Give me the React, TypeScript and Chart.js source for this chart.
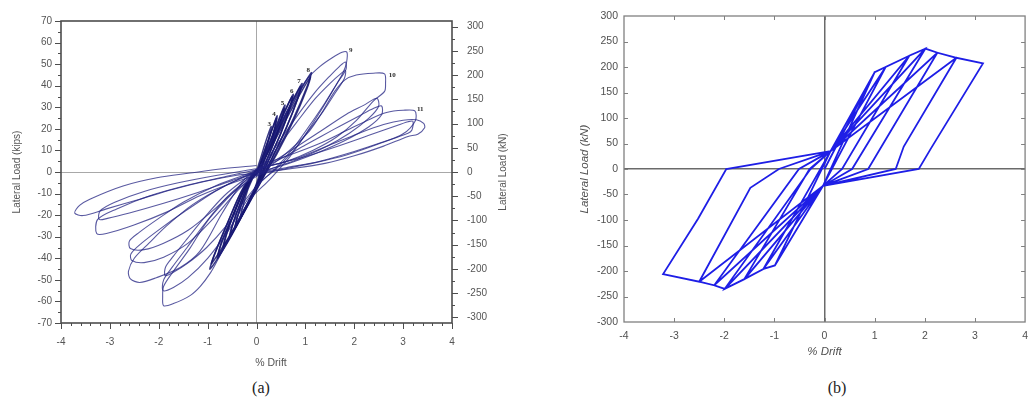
import React, { useEffect, useRef } from 'react';
import { Chart, registerables } from 'chart.js';
Chart.register(...registerables);

type Pt = [number, number];

// ---------- Chart (a): measured hysteresis, % drift vs lateral load (kips) ----------
const cycle3: Pt[] = [[-0.02,-1],[0.08,6],[0.18,13.5],[0.3,21],[0.27,17],[0.19,10],[0.1,3],[0.02,-4],[-0.1,-11],[-0.21,-16.5],[-0.33,-21],[-0.29,-17],[-0.19,-9],[-0.08,-3],[0,1]];
const cycle4: Pt[] = [[0,-1],[0.12,7],[0.26,16],[0.42,26],[0.38,21],[0.27,12],[0.14,4],[0.04,-4],[-0.12,-12],[-0.28,-19.5],[-0.44,-26],[-0.39,-21],[-0.26,-12],[-0.12,-4],[0,1]];
const cycle4b: Pt[] = [[0.02,0],[0.13,7.5],[0.27,16.5],[0.41,25],[0.37,20],[0.26,11.5],[0.13,3.5],[0.03,-4.5],[-0.13,-12.5],[-0.28,-19],[-0.43,-25],[-0.38,-20],[-0.25,-11.5],[-0.11,-3.5],[0.02,0]];
const cycle5: Pt[] = [[0,-1],[0.16,8],[0.36,19],[0.58,31],[0.53,25.5],[0.38,15],[0.2,5],[0.05,-4],[-0.15,-13],[-0.35,-22],[-0.55,-30],[-0.5,-25],[-0.34,-15],[-0.16,-5],[0,1]];
const cycle5b: Pt[] = [[0.02,0],[0.18,8.5],[0.37,18.5],[0.56,29.5],[0.51,24.5],[0.37,14.5],[0.19,4.5],[0.04,-4.5],[-0.16,-13.5],[-0.35,-21.5],[-0.53,-29],[-0.48,-24],[-0.33,-14.5],[-0.15,-4.5],[0.02,0]];
const cycle6: Pt[] = [[0,-1],[0.22,10],[0.47,23],[0.75,36],[0.69,30],[0.5,18],[0.26,6],[0.06,-4],[-0.18,-15],[-0.43,-25.5],[-0.68,-35],[-0.62,-29],[-0.42,-17],[-0.2,-6],[0,1]];
const cycle6b: Pt[] = [[0.02,0],[0.24,10.5],[0.48,23],[0.73,35],[0.67,29],[0.48,17],[0.25,5.5],[0.06,-4],[-0.17,-14.5],[-0.42,-25],[-0.66,-34],[-0.6,-28],[-0.4,-16],[-0.19,-5.5],[0.02,0]];
const cycle7: Pt[] = [[0,-1],[0.28,12],[0.6,27],[0.93,41],[0.86,35],[0.62,21],[0.33,7],[0.07,-5],[-0.22,-17],[-0.51,-29],[-0.8,-40],[-0.73,-34],[-0.5,-21],[-0.24,-7],[0,1]];
const cycle7b: Pt[] = [[0.02,0],[0.3,12.5],[0.6,26.5],[0.9,39.5],[0.84,34],[0.6,20],[0.32,6.5],[0.06,-4.5],[-0.21,-16],[-0.5,-28],[-0.78,-38.5],[-0.71,-32],[-0.48,-20],[-0.23,-7],[0.02,0]];
const cycle8: Pt[] = [[0,-1],[0.34,14],[0.73,31],[1.12,46],[1.04,40],[0.76,25],[0.41,9],[0.08,-5],[-0.26,-19],[-0.6,-33],[-0.95,-45],[-0.87,-39],[-0.6,-24],[-0.29,-8],[0,1]];
const cycle8b: Pt[] = [[0.02,0],[0.36,14],[0.74,30],[1.1,44],[1.03,38.5],[0.76,24],[0.42,8.5],[0.08,-4.5],[-0.25,-18],[-0.59,-31],[-0.92,-42.5],[-0.84,-37],[-0.58,-23],[-0.28,-8],[0.02,0]];
const cycle9a: Pt[] = [[0,-2],[0.2,9],[0.45,21],[0.75,33],[1.05,43.5],[1.3,49],[1.55,53],[1.75,55.5],[1.85,55.5],[1.84,50.5],[1.77,46],[1.62,40],[1.36,30],[1.02,18],[0.68,7],[0.27,-3.5],[-0.14,-13],[-0.5,-28],[-0.8,-41],[-0.95,-47],[-1.15,-53],[-1.36,-57.3],[-1.7,-61],[-1.9,-62],[-1.92,-58],[-1.9,-53],[-1.7,-46],[-1.36,-35.3],[-1.02,-23.2],[-0.61,-12.6],[-0.2,-3.5],[0.1,2]];
const cycle9b: Pt[] = [[0.1,2],[0.4,12],[0.8,25],[1.2,37],[1.5,44.5],[1.7,49],[1.82,51],[1.83,47.5],[1.66,41.5],[1.4,32],[1.1,22],[0.75,11],[0.4,2],[0.08,-5],[-0.22,-14],[-0.6,-28],[-1.0,-40],[-1.4,-49],[-1.7,-53.5],[-1.91,-55],[-1.9,-50],[-1.72,-44],[-1.42,-35],[-1.06,-24],[-0.62,-12],[-0.22,-4],[0.1,1]];
const cycle9c: Pt[] = [[0.1,1],[0.42,11],[0.82,23],[1.2,34],[1.5,41],[1.72,45.5],[1.82,47],[1.8,43.5],[1.62,37],[1.36,28],[1.06,19],[0.72,9],[0.38,1],[0.06,-5],[-0.25,-13.5],[-0.62,-25],[-1.02,-35],[-1.42,-42.5],[-1.7,-46.5],[-1.87,-48],[-1.86,-44],[-1.7,-39],[-1.42,-31],[-1.08,-21.5],[-0.66,-11],[-0.25,-3.5],[0.05,1]];
const cycle10a: Pt[] = [[-0.14,-2],[0.27,2.6],[0.68,10.1],[1.09,19.2],[1.36,28.3],[1.6,37.4],[1.81,42.7],[2.04,45],[2.39,45.8],[2.62,45.5],[2.64,41],[2.62,37.4],[2.39,32.9],[2.04,23.8],[1.64,16.2],[1.16,10.1],[0.61,4.9],[0,1],[-0.3,-5],[-0.7,-19],[-1.16,-36.8],[-1.57,-44.4],[-2.05,-49],[-2.39,-51.2],[-2.58,-49.5],[-2.62,-46],[-2.5,-40],[-2.2,-33],[-1.84,-25],[-1.3,-15],[-0.61,-6],[0,0]];
const cycle10b: Pt[] = [[0,0],[0.6,8.5],[1.23,17.7],[1.84,26.8],[2.2,31],[2.46,34.2],[2.5,30.5],[2.3,25],[1.9,18],[1.4,11.5],[0.8,5.5],[0.2,0.5],[-0.4,-8],[-0.9,-18],[-1.4,-27],[-1.9,-33],[-2.3,-36],[-2.58,-35.5],[-2.6,-32],[-2.4,-28],[-2.0,-21.5],[-1.5,-14],[-0.8,-6],[-0.2,-1]];
const cycle10c: Pt[] = [[-0.2,-1],[0.4,5],[1.0,12.5],[1.6,20],[2.1,26],[2.4,29.5],[2.56,30.6],[2.56,26.5],[2.3,21],[1.8,14.5],[1.2,8.5],[0.6,3.5],[0,-1],[-0.4,-9],[-0.9,-22],[-1.4,-33],[-1.9,-39.5],[-2.3,-42],[-2.55,-41],[-2.57,-38],[-2.35,-33],[-1.95,-26],[-1.45,-18],[-0.85,-9],[-0.3,-2.5],[0.1,1]];
const cycle11a: Pt[] = [[0.07,3.3],[0.68,7.9],[1.29,13.2],[1.84,19.2],[2.32,24.5],[2.66,27.6],[3.0,28.6],[3.24,28.3],[3.25,23.8],[3.0,17.7],[2.52,13.2],[1.84,7.9],[1.16,4.1],[0.48,1],[0,-1.5],[-0.48,-5],[-1.16,-11],[-1.84,-18.6],[-2.52,-24.7],[-3.07,-28.5],[-3.27,-28.5],[-3.25,-22],[-2.86,-17.1],[-2.18,-11],[-1.36,-5.8],[-0.61,-2],[0,1]];
const cycle11b: Pt[] = [[0,1],[0.2,2.5],[0.9,6.5],[1.6,11.5],[2.3,17],[2.8,21],[3.1,23.3],[3.2,23.5],[3.18,19.5],[3.1,18],[2.6,14],[2.0,9.5],[1.3,5],[0.6,2],[0,-0.5],[-0.5,-4],[-1.2,-9.5],[-1.9,-14.5],[-2.6,-19],[-3.05,-21.5],[-3.22,-22],[-3.2,-18],[-2.9,-14],[-2.3,-9],[-1.6,-5],[-0.8,-1.5],[0,1.5]];
const cycle12: Pt[] = [[0,1.5],[0.3,3],[0.9,7],[1.5,12.5],[2.1,18],[2.6,22],[3.0,24],[3.27,24.2],[3.42,22.5],[3.44,20.5],[3.3,17.5],[3.1,16.5],[2.6,12],[2.0,7.5],[1.4,4],[0.7,1.5],[0,-0.5],[-0.4,-1.5],[-1.02,-4.2],[-1.7,-8],[-2.39,-12.6],[-3.07,-17.1],[-3.55,-20.2],[-3.72,-19],[-3.62,-15.5],[-3.41,-12.6],[-2.73,-6.5],[-2.04,-2.7],[-1.36,-0.5],[-0.7,1.5],[0,3]];

const smallCyclesA: Pt[][] = [cycle3, cycle4, cycle4b, cycle5, cycle5b, cycle6, cycle6b, cycle7, cycle7b, cycle8, cycle8b];
const largeCyclesA: Pt[][] = [cycle9a, cycle9b, cycle9c, cycle10a, cycle10b, cycle10c, cycle11a, cycle11b, cycle12];

const peakLabels = ['3', '4', '5', '6', '7', '8', '9', '10', '11'];
const peakLabelDrift = [0.26, 0.36, 0.53, 0.72, 0.87, 1.06, 1.93, 2.78, 3.35];
const peakLabelLoad = [22, 26.8, 31.8, 37.4, 42.3, 47.3, 56.6, 45, 29.1];

const driftTicksA = [-4, -3, -2, -1, 0, 1, 2, 3, 4];
const kipTicks = [-70, -60, -50, -40, -30, -20, -10, 0, 10, 20, 30, 40, 50, 60, 70];
const kNTicks = [-300, -250, -200, -150, -100, -50, 0, 50, 100, 150, 200, 250, 300];
const KIP_TO_KN = 4.448;

// ---------- Chart (b): numerical model, % drift vs lateral load (kN) ----------
const driftB = [0, 1.0, -0.03, -0.99, 0.12, 1.0, 1.22, -0.03, -0.99, -1.22, 0.12, 1.22, 1.69, 0.35, -0.03, -1.22, -1.6, -0.3, 0.12,
  1.69, 2.01, 0.55, -0.03, -1.6, -1.99, -0.28, 0.12, 2.01, 2.25, 0.87, -0.03, -1.99, -2.2, -0.51, 0.12,
  2.25, 2.63, 1.58, 1.42, -0.03, -2.2, -2.5, -1.48, -0.91, 0.12, 2.63, 3.16, 2.12, 1.88, -0.03, -2.5, -3.22, -2.52, -1.96, 0.12];
const loadB = [0, 190, -33, -189, 35, 190, 200, -33, -189, -196, 35, 200, 222, 0, -33, -196, -216, 0, 35,
  222, 236, 0, -33, -216, -235, 0, 35, 236, 228, 0, -33, -235, -228, 0, 35,
  228, 218, 44, 0, -33, -228, -221, -37, 0, 35, 218, 207, 40, 0, -33, -221, -206, -97, 0, 35];
const driftTicksB = [-4, -3, -2, -1, 0, 1, 2, 3, 4];
const loadTicksB = [-300, -250, -200, -150, -100, -50, 0, 50, 100, 150, 200, 250, 300];

const SANS = '"Liberation Sans", Arial, sans-serif';

const decorA = {
  id: 'decorA',
  afterDraw(chart: any) {
    const { ctx, chartArea: a, scales } = chart;
    const sx = scales.x, sy = scales.y, sy2 = scales.y2;
    ctx.save();
    ctx.strokeStyle = '#4d4d4d';
    ctx.lineWidth = 1;
    ctx.beginPath();
    for (let i = -20; i <= 20; i++) {
      const px = Math.round(sx.getPixelForValue(i / 5)) + 0.5;
      const len = i % 5 === 0 ? 6 : 3;
      ctx.moveTo(px, a.bottom); ctx.lineTo(px, a.bottom + len);
    }
    for (let v = -70; v <= 70; v += 5) {
      const py = Math.round(sy.getPixelForValue(v)) + 0.5;
      const len = v % 10 === 0 ? 6 : 3;
      ctx.moveTo(a.left - len, py); ctx.lineTo(a.left, py);
    }
    for (let v = -300; v <= 300; v += 25) {
      const py = Math.round(sy2.getPixelForValue(v)) + 0.5;
      const len = v % 50 === 0 ? 6 : 3;
      ctx.moveTo(a.right, py); ctx.lineTo(a.right + len, py);
    }
    ctx.stroke();
    ctx.lineWidth = 1.6;
    ctx.strokeRect(a.left, a.top, a.right - a.left, a.bottom - a.top);

    ctx.fillStyle = '#2a2a2a';
    ctx.font = 'bold 7px "Liberation Serif", serif';
    ctx.textAlign = 'center';
    ctx.textBaseline = 'middle';
    peakLabels.forEach((t, i) => {
      ctx.fillText(t, sx.getPixelForValue(peakLabelDrift[i]), sy.getPixelForValue(peakLabelLoad[i]));
    });

    ctx.fillStyle = '#555';
    ctx.font = '10.5px ' + SANS;
    ctx.fillText('% Drift', 271, 363);
    const midY = (a.top + a.bottom) / 2;
    ctx.font = '10px ' + SANS;
    ctx.save();
    ctx.translate(17, midY); ctx.rotate(-Math.PI / 2);
    ctx.fillText('Lateral Load (kips)', 0, 0);
    ctx.restore();
    ctx.save();
    ctx.translate(503, midY); ctx.rotate(-Math.PI / 2);
    ctx.fillText('Lateral Load (kN)', 0, 0);
    ctx.restore();
    ctx.restore();
  },
};

const decorB = {
  id: 'decorB',
  afterDraw(chart: any) {
    const { ctx, chartArea: a, scales } = chart;
    const sx = scales.x, sy = scales.y;
    ctx.save();
    ctx.strokeStyle = '#808080';
    ctx.lineWidth = 1;
    ctx.beginPath();
    driftTicksB.slice(1, -1).forEach((v) => {
      const px = Math.round(sx.getPixelForValue(v)) + 0.5;
      ctx.moveTo(px, a.top); ctx.lineTo(px, a.top + 4);
      ctx.moveTo(px, a.bottom); ctx.lineTo(px, a.bottom - 4);
    });
    loadTicksB.slice(1, -1).forEach((v) => {
      const py = Math.round(sy.getPixelForValue(v)) + 0.5;
      ctx.moveTo(a.left, py); ctx.lineTo(a.left + 4, py);
      ctx.moveTo(a.right, py); ctx.lineTo(a.right - 4, py);
    });
    ctx.stroke();
    ctx.lineWidth = 1.3;
    ctx.strokeRect(a.left, a.top, a.right - a.left, a.bottom - a.top);
    ctx.restore();
  },
};

export default function App() {
  const refA = useRef<HTMLCanvasElement>(null);
  const refB = useRef<HTMLCanvasElement>(null);

  useEffect(() => {
    const zeroGrid = (c: string, w: number) => ({
      drawTicks: false,
      color: (ctx: any) => (ctx.tick && ctx.tick.value === 0 ? c : 'rgba(0,0,0,0)'),
      lineWidth: (ctx: any) => (ctx.tick && ctx.tick.value === 0 ? w : 0),
    });
    const loopDataset = (c: Pt[], color: string, width: number) => ({
      data: c.map(([x, y]) => ({ x, y })),
      showLine: true,
      borderColor: color,
      borderWidth: width,
      pointRadius: 0,
      tension: 0.3,
      fill: false,
    });

    const chartA = new Chart(refA.current as HTMLCanvasElement, {
      type: 'scatter',
      data: {
        datasets: [
          ...largeCyclesA.map((c) => loopDataset(c, 'rgba(34,34,130,0.75)', 1.1)),
          ...smallCyclesA.map((c) => loopDataset(c, 'rgba(22,22,112,0.85)', 1.5)),
        ],
      },
      options: {
        responsive: false,
        animation: false,
        events: [],
        layout: { padding: { top: 15, bottom: 0, left: 0, right: 0 } },
        plugins: { legend: { display: false }, tooltip: { enabled: false } },
        scales: {
          x: {
            type: 'linear', min: -4, max: 4,
            afterBuildTicks: (s: any) => { s.ticks = driftTicksA.map((v) => ({ value: v })); },
            afterFit: (s: any) => { s.height = 52; },
            border: { display: false },
            grid: zeroGrid('#a8a8a8', 1),
            ticks: { color: '#555', font: { family: SANS, size: 10 }, padding: 13, autoSkip: false, maxRotation: 0 },
          },
          y: {
            type: 'linear', position: 'left', min: -70, max: 70,
            afterBuildTicks: (s: any) => { s.ticks = kipTicks.map((v) => ({ value: v })); },
            afterFit: (s: any) => { s.width = 61; },
            border: { display: false },
            grid: zeroGrid('#a8a8a8', 1),
            ticks: { color: '#555', font: { family: SANS, size: 10 }, padding: 9, autoSkip: false },
          },
          y2: {
            type: 'linear', position: 'right', min: -70 * KIP_TO_KN, max: 70 * KIP_TO_KN,
            afterBuildTicks: (s: any) => { s.ticks = kNTicks.map((v) => ({ value: v })); },
            afterFit: (s: any) => { s.width = 68; },
            border: { display: false },
            grid: { display: false, drawTicks: false },
            ticks: { color: '#555', font: { family: SANS, size: 10 }, padding: 15, autoSkip: false },
          },
        },
      } as any,
      plugins: [decorA],
    });

    const chartB = new Chart(refB.current as HTMLCanvasElement, {
      type: 'scatter',
      data: {
        datasets: [{
          data: driftB.map((x, i) => ({ x, y: loadB[i] })),
          showLine: true,
          borderColor: '#1e1ee6',
          borderWidth: 1.8,
          pointRadius: 0,
          tension: 0,
          fill: false,
        }],
      },
      options: {
        responsive: false,
        animation: false,
        events: [],
        layout: { padding: { top: 16, bottom: 0, left: 0, right: 7 } },
        plugins: { legend: { display: false }, tooltip: { enabled: false } },
        scales: {
          x: {
            type: 'linear', min: -4, max: 4,
            afterBuildTicks: (s: any) => { s.ticks = driftTicksB.map((v) => ({ value: v })); },
            afterFit: (s: any) => { s.height = 48; },
            border: { display: false },
            grid: zeroGrid('#6a6a6a', 1.5),
            ticks: { color: '#505050', font: { family: SANS, size: 10.5 }, padding: 8, autoSkip: false, maxRotation: 0 },
            title: { display: true, text: '% Drift', color: '#505050', font: { family: SANS, size: 11.5, style: 'italic' }, padding: { top: 0, bottom: 11 } },
          },
          y: {
            type: 'linear', min: -300, max: 300,
            afterBuildTicks: (s: any) => { s.ticks = loadTicksB.map((v) => ({ value: v })); },
            afterFit: (s: any) => { s.width = 94; },
            border: { display: false },
            grid: zeroGrid('#6a6a6a', 1.5),
            ticks: { color: '#505050', font: { family: SANS, size: 10.5 }, padding: 6, autoSkip: false },
            title: { display: true, text: 'Lateral Load (kN)', color: '#505050', font: { family: SANS, size: 11.5, style: 'italic' }, padding: { top: 48, bottom: 0 } },
          },
        },
      } as any,
      plugins: [decorB],
    });

    return () => { chartA.destroy(); chartB.destroy(); };
  }, []);

  const caption: React.CSSProperties = {
    position: 'absolute', top: 388, transform: 'translate(-50%, -50%)',
    font: '16px "Liberation Serif", "Times New Roman", serif', color: '#222', whiteSpace: 'nowrap',
  };

  return (
    <div style={{ position: 'absolute', left: 0, top: 0, width: 1036, height: 400, background: '#fff', overflow: 'hidden' }}>
      <canvas ref={refA} width={520} height={375} style={{ position: 'absolute', left: 0, top: 0 }} />
      <canvas ref={refB} width={506} height={370} style={{ position: 'absolute', left: 530, top: 0 }} />
      <div style={{ ...caption, left: 261 }}>(a)</div>
      <div style={{ ...caption, left: 837 }}>(b)</div>
    </div>
  );
}
